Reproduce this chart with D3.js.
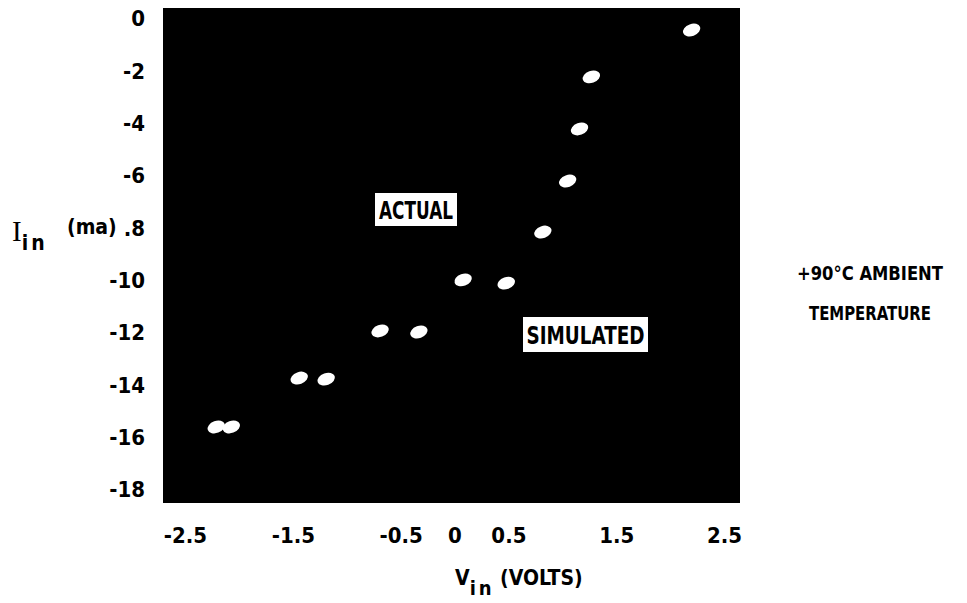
<!DOCTYPE html>
<html>
<head>
<meta charset="utf-8">
<script src="https://cdn.jsdelivr.net/npm/d3@7"></script>
<style>
  html, body { margin: 0; padding: 0; background: #fff; }
  svg { display: block; }
  .lbl { font-family: "DejaVu Sans Condensed", "Liberation Sans Narrow", sans-serif; font-weight: bold; fill: #000; }
</style>
</head>
<body>
<svg id="chart" width="967" height="603"></svg>
<script>
// ---- data ----
const xTickValues = [-2.5, -1.5, -0.5, 0, 0.5, 1.5, 2.5];
const xTickLabels = ["-2.5", "-1.5", "-0.5", "0", "0.5", "1.5", "2.5"];
const yTickValues = [0, -2, -4, -6, -8, -10, -12, -14, -16, -18];
const yTickLabels = ["0", "-2", "-4", "-6", ".8", "-10", "-12", "-14", "-16", "-18"];

// actual measurements (V_in volts, I_in mA)
const actualV = [2.20, 1.27, 1.16, 1.05, 0.82, 0.08, -0.69, -1.44, -2.21];
const actualI = [-0.46, -2.25, -4.24, -6.23, -8.18, -10.01, -11.96, -13.76, -15.63];
// simulated
const simulatedV = [0.48, -0.33, -1.19, -2.07];
const simulatedI = [-10.13, -12.0, -13.8, -15.63];

const svg = d3.select("#chart");

const x = d3.scaleLinear().domain([-2.5, 2.5]).range([185, 724]);
const y = d3.scaleLinear().domain([0, -18]).range([18, 489]);

// black plot field
svg.append("rect")
  .attr("x", 163).attr("y", 8)
  .attr("width", 577).attr("height", 495)
  .attr("fill", "#000");

// axes (labels only)
const xAxis = d3.axisBottom(x)
  .tickValues(xTickValues)
  .tickFormat((d, i) => xTickLabels[i])
  .tickSize(0);
const gx = svg.append("g").attr("transform", "translate(0,535)").call(xAxis);
gx.select(".domain").remove();
gx.selectAll("text").attr("class", "lbl").attr("font-size", 22).attr("dy", "0.36em").attr("y", 0);

const yAxis = d3.axisLeft(y)
  .tickValues(yTickValues)
  .tickFormat((d, i) => yTickLabels[i])
  .tickSize(0);
const gy = svg.append("g").attr("transform", "translate(145,0)").call(yAxis);
gy.select(".domain").remove();
gy.selectAll("text").attr("class", "lbl").attr("font-size", 22).attr("x", 0).attr("dy", "0.36em");

// points
const actual = actualV.map((v, i) => ({ v, i: actualI[i] }));
const simulated = simulatedV.map((v, i) => ({ v, i: simulatedI[i] }));

function drawBlobs(data) {
  svg.append("g").selectAll("ellipse").data(data).enter().append("ellipse")
    .attr("cx", d => x(d.v)).attr("cy", d => y(d.i))
    .attr("rx", 9).attr("ry", 6)
    .attr("transform", d => `rotate(-20 ${x(d.v)} ${y(d.i)})`)
    .attr("fill", "#fff");
}
drawBlobs(actual);
drawBlobs(simulated);

// in-plot labels
function boxLabel(cx, cy, w, h, text, tw) {
  svg.append("rect").attr("x", cx - w / 2).attr("y", cy - h / 2)
    .attr("width", w).attr("height", h).attr("fill", "#fff");
  svg.append("text").attr("class", "lbl").attr("x", cx - tw / 2).attr("y", cy)
    .attr("dy", "0.36em").attr("font-size", 25)
    .attr("textLength", tw).attr("lengthAdjust", "spacingAndGlyphs")
    .text(text);
}
boxLabel(416, 209.5, 82, 33, "ACTUAL", 74);
boxLabel(585.5, 334.5, 125, 35, "SIMULATED", 118);

// x axis title
const xt = svg.append("text").attr("class", "lbl").attr("x", 455).attr("y", 585)
  .attr("font-size", 21);
xt.append("tspan").text("V");
xt.append("tspan").attr("dy", 10).attr("font-size", 20).attr("letter-spacing", 3).text("in");
xt.append("tspan").attr("dy", -10).attr("x", 500).text("(VOLTS)");

// y axis title
const yt = svg.append("text").attr("x", 12).attr("y", 241).attr("font-size", 29);
yt.append("tspan").attr("font-family", "Liberation Serif, serif").text("I");
yt.append("tspan").attr("class", "lbl").attr("dy", 9).attr("font-size", 21).attr("letter-spacing", 3).text("in");
yt.append("tspan").attr("class", "lbl").attr("dy", -16).attr("x", 67).attr("font-size", 21).text("(ma)");

// side annotation
svg.append("text").attr("class", "lbl").attr("x", 870).attr("y", 273)
  .attr("text-anchor", "middle").attr("dy", "0.36em").attr("font-size", 20)
  .attr("textLength", 146).attr("lengthAdjust", "spacingAndGlyphs")
  .text("+90°C AMBIENT");
svg.append("text").attr("class", "lbl").attr("x", 870).attr("y", 313)
  .attr("text-anchor", "middle").attr("dy", "0.36em").attr("font-size", 20)
  .attr("textLength", 122).attr("lengthAdjust", "spacingAndGlyphs")
  .text("TEMPERATURE");
</script>
</body>
</html>
